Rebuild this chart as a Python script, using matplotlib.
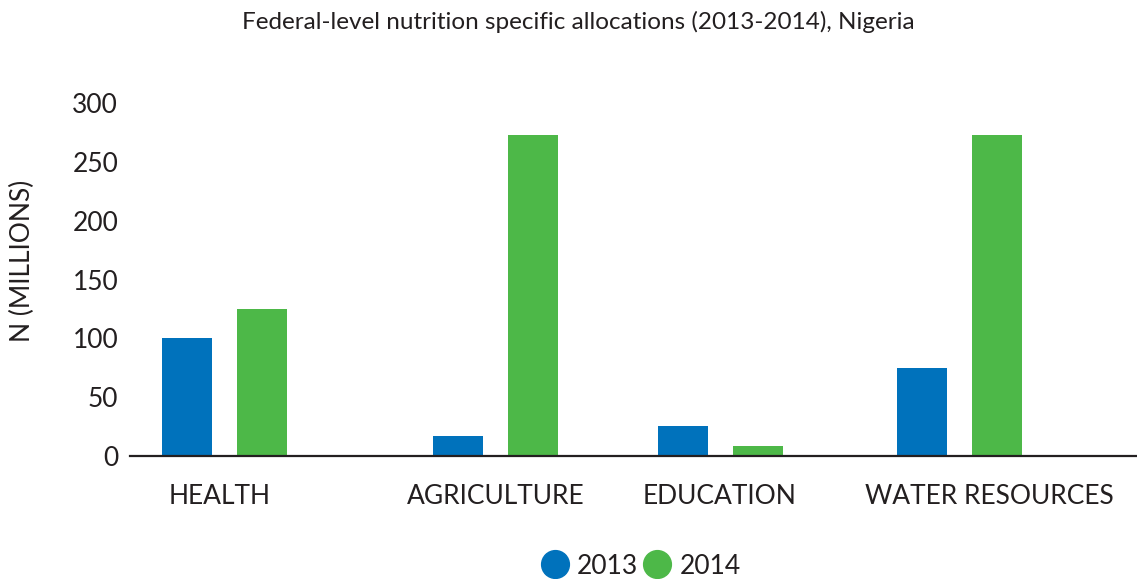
import matplotlib
matplotlib.use("Agg")
import matplotlib.pyplot as plt
from matplotlib.lines import Line2D

plt.rcParams['font.family'] = ['Lato', 'DejaVu Sans']

# Data (N millions)
categories = ["HEALTH", "AGRICULTURE", "EDUCATION", "WATER RESOURCES"]
series_names = ["2013", "2014"]
values_2013 = [100, 17, 25.5, 75]
values_2014 = [125, 273, 8.5, 273]
y_ticks = [0, 50, 100, 150, 200, 250, 300]

# Layout
BLUE = "#0072BC"
GREEN = "#4DB848"
TEXT = "#231F20"
group_centers = [224.5, 495.5, 720.5, 959.5]
label_centers = [220, 496, 720, 989]
bar_w = 50
offset = 37.5

fig = plt.figure(figsize=(11.37, 5.79), dpi=100)
W, H = 1137, 579
ax = fig.add_axes([130 / W, 1 - 456 / H, 1 - 130 / W, (456 - 103) / H])

x13 = [c - offset for c in group_centers]
x14 = [c + offset for c in group_centers]
ax.bar(x13, values_2013, width=bar_w, color=BLUE, linewidth=0)
ax.bar(x14, values_2014, width=bar_w, color=GREEN, linewidth=0)

ax.set_xlim(130, 1137)
ax.set_ylim(0, 300)
ax.set_yticks(y_ticks)
ax.set_yticklabels([str(t) for t in y_ticks], fontsize=19, color=TEXT)
ax.tick_params(axis='y', length=0, pad=8.5)
ax.set_xticks([])

for s in ("top", "right", "left"):
    ax.spines[s].set_visible(False)
ax.spines["bottom"].set_color(TEXT)
ax.spines["bottom"].set_linewidth(1.6)

for lc, cat in zip(label_centers, categories):
    ax.annotate(cat, xy=(lc, 0), xycoords="data", xytext=(0, -41),
                textcoords="offset pixels", ha="center", va="center",
                fontsize=19, color=TEXT, annotation_clip=False)

fig.text(22 / W, 1 - 261 / H, "N (MILLIONS)", rotation=90, ha="center",
         va="center", fontsize=19, color=TEXT)

fig.text(578 / W, 1 - 22 / H,
         "Federal-level nutrition specific allocations (2013-2014), Nigeria",
         ha="center", va="center", fontsize=17.5, color=TEXT)

handles = [Line2D([], [], marker="o", linestyle="none", markersize=20,
                  markerfacecolor=c, markeredgecolor=c) for c in (BLUE, GREEN)]
fig.legend(handles, series_names, loc="center", bbox_to_anchor=(641 / W, 1 - 566 / H),
           ncol=2, frameon=False, fontsize=19, handletextpad=0.35,
           columnspacing=0.2, handlelength=1.0, labelcolor=TEXT)

fig.savefig("out.png", dpi=100)
